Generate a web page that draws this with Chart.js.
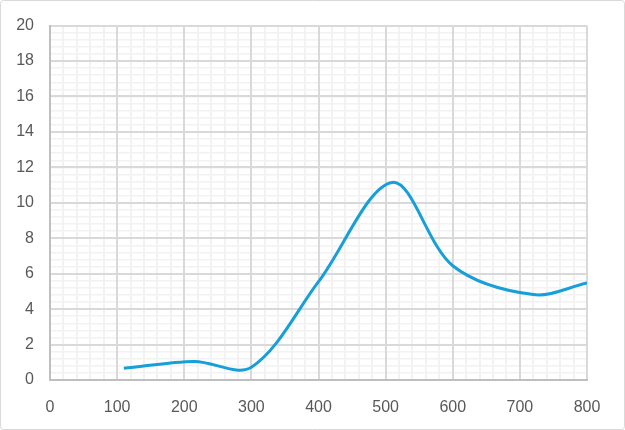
<!DOCTYPE html>
<html><head><meta charset="utf-8">
<script src="https://cdn.jsdelivr.net/npm/chart.js@4/dist/chart.umd.min.js"></script>
<style>html,body{margin:0;padding:0;background:#fff}#wrap{width:625px;height:430px;position:relative}</style>
</head><body><div id="wrap"><canvas id="c" width="625" height="430"></canvas></div>
<script>
const xValues = [110, 215, 300, 400, 510, 600, 720, 800];
const yValues = [0.66, 1.05, 0.72, 5.55, 11.15, 6.45, 4.82, 5.47];
const xTicksMajor = [0, 100, 200, 300, 400, 500, 600, 700, 800];
const yTicksMajor = [0, 2, 4, 6, 8, 10, 12, 14, 16, 18, 20];

const points = xValues.map((x, i) => ({x: x, y: yValues[i]}));

const frame = {
  id: 'frame',
  beforeDraw(chart) {
    const ctx = chart.ctx;
    ctx.save();
    ctx.fillStyle = '#fff';
    ctx.fillRect(0, 0, chart.width, chart.height);
    ctx.strokeStyle = '#d9d9d9';
    ctx.lineWidth = 1;
    ctx.beginPath();
    ctx.roundRect(0.5, 0.5, chart.width - 1, chart.height - 1, 3);
    ctx.stroke();
    ctx.restore();
  }
};

const tickFont = { family: 'Liberation Sans', size: 16 };

new Chart(document.getElementById('c'), {
  type: 'line',
  data: { datasets: [{ data: points, borderColor: '#169fd8', borderWidth: 3, pointRadius: 0, tension: 0.33, fill: false }] },
  options: {
    responsive: false, animation: false,
    layout: { padding: { left: 0, top: 24, right: 38, bottom: 0 } },
    plugins: { legend: { display: false }, tooltip: { enabled: false } },
    scales: {
      xMinor: {
        type: 'linear', position: 'bottom', min: 0, max: 800, z: -2,
        afterFit(s) { s.height = 0; },
        afterBuildTicks(s) { const t = []; for (let v = 0; v <= 800; v += 20) t.push({value: v}); s.ticks = t; },
        ticks: { display: false },
        grid: { drawTicks: false, color: '#f2f2f2', lineWidth: 2 },
        border: { display: false }
      },
      yMinor: {
        type: 'linear', position: 'left', min: 0, max: 20, z: -2,
        afterFit(s) { s.width = 0; },
        afterBuildTicks(s) { const t = []; for (let k = 0; k <= 50; k++) t.push({value: Math.round(k * 4) / 10}); s.ticks = t; },
        ticks: { display: false },
        grid: { drawTicks: false, color: '#f2f2f2', lineWidth: 1.5 },
        border: { display: false }
      },
      x: {
        type: 'linear', position: 'bottom', min: 0, max: 800, z: -1,
        afterFit(s) { s.height = 50; },
        afterBuildTicks(s) { s.ticks = xTicksMajor.map(v => ({value: v})); },
        ticks: { autoSkip: false, maxRotation: 0, padding: 18, color: '#595959', font: tickFont },
        grid: { drawTicks: false, color: '#d9d9d9', lineWidth: 2 },
        border: { color: '#bfbfbf', width: 2 }
      },
      y: {
        type: 'linear', position: 'left', min: 0, max: 20, z: -1,
        afterFit(s) { s.width = 50; },
        afterBuildTicks(s) { s.ticks = yTicksMajor.map(v => ({value: v})); },
        ticks: { autoSkip: false, padding: 16, color: '#595959', font: tickFont },
        grid: { drawTicks: false, color: '#d9d9d9', lineWidth: 2 },
        border: { color: '#bfbfbf', width: 2 }
      }
    }
  },
  plugins: [frame]
});
</script></body></html>
